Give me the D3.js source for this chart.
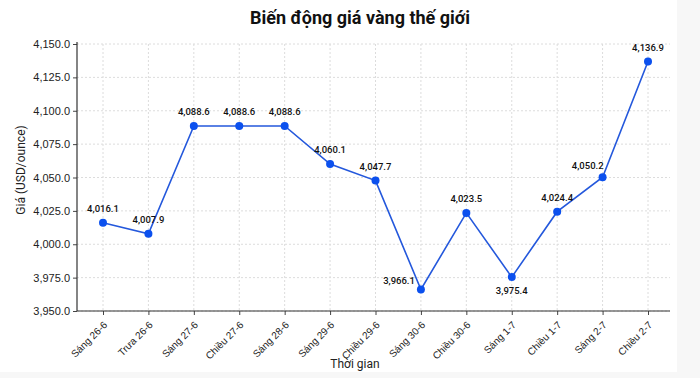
<!DOCTYPE html>
<html>
<head>
<meta charset="utf-8">
<script src="https://cdn.jsdelivr.net/npm/d3@7"></script>
<style>
  html, body { margin: 0; padding: 0; background: #f7f7f7; }
  svg { display: block; font-family: Roboto, "Noto Sans", sans-serif; }
</style>
</head>
<body>
<div id="container"></div>
<script>
/**
 * DATA
 * */
const categories = ["Sáng 26-6", "Trưa 26-6", "Sáng 27-6", "Chiều 27-6", "Sáng 28-6", "Sáng 29-6",
  "Chiều 29-6", "Sáng 30-6", "Chiều 30-6", "Sáng 1-7", "Chiều 1-7", "Sáng 2-7", "Chiều 2-7"];
const prices = [4016.1, 4007.9, 4088.6, 4088.6, 4088.6, 4060.1,
  4047.7, 3966.1, 4023.5, 3975.4, 4024.4, 4050.2, 4136.9];
const yTicks = [3950, 3975, 4000, 4025, 4050, 4075, 4100, 4125, 4150];

const title = "Biến động giá vàng thế giới";
const xTitle = "Thời gian";
const yTitle = "Giá (USD/ounce)";

// where a value label sits when "above" would collide
const labelSide = { "Sáng 30-6": "left", "Sáng 1-7": "below", "Sáng 2-7": "upleft" };

/**
 * CONSTANTS
 * */
const width = 700, height = 378;
const plot = { left: 77, right: 670, top: 44, bottom: 311 };

const svg = d3.select("#container").append("svg")
  .attr("width", width)
  .attr("height", height);

// white card
svg.append("rect")
  .attr("x", 0).attr("y", 0)
  .attr("width", 677).attr("height", 372)
  .attr("fill", "#fff");

const x = d3.scalePoint()
  .domain(categories)
  .range([103, 648]);

const y = d3.scaleLinear()
  .domain([3950, 4150])
  .range([plot.bottom, plot.top]);

const fmt = d3.format(",.1f");

// grid
svg.append("g")
  .selectAll("line.hgrid")
  .data(yTicks)
  .join("line")
  .attr("class", "hgrid")
  .attr("x1", plot.left).attr("x2", plot.right)
  .attr("y1", d => y(d)).attr("y2", d => y(d))
  .attr("stroke", "#dcdcdc")
  .attr("stroke-dasharray", "2,2");

svg.append("g")
  .selectAll("line.vgrid")
  .data(categories)
  .join("line")
  .attr("class", "vgrid")
  .attr("x1", d => x(d)).attr("x2", d => x(d))
  .attr("y1", plot.top).attr("y2", plot.bottom)
  .attr("stroke", "#dcdcdc")
  .attr("stroke-dasharray", "2,2");

// axes
const yAxis = svg.append("g")
  .attr("transform", `translate(${plot.left},0)`)
  .call(d3.axisLeft(y).tickValues(yTicks).tickFormat(fmt).tickSize(4).tickSizeOuter(0));
yAxis.select(".domain").remove();
yAxis.selectAll("line").attr("stroke", "#444");
yAxis.selectAll("text").attr("font-size", 11).attr("fill", "#222").attr("x", -7);

const xAxis = svg.append("g")
  .attr("transform", `translate(0,${plot.bottom})`)
  .call(d3.axisBottom(x).tickSize(4).tickSizeOuter(0));
xAxis.select(".domain").remove();
xAxis.selectAll("line").attr("stroke", "#444");
xAxis.selectAll("text")
  .attr("font-size", 10)
  .attr("fill", "#222")
  .attr("text-anchor", "end")
  .attr("x", 0).attr("y", 0)
  .attr("dy", "0.35em")
  .attr("transform", "translate(2,12) rotate(-45)");

// axis lines
svg.append("line")
  .attr("x1", plot.left).attr("x2", plot.right)
  .attr("y1", plot.bottom).attr("y2", plot.bottom)
  .attr("stroke", "#333").attr("stroke-width", 1.2);
svg.append("line")
  .attr("x1", plot.left).attr("x2", plot.left)
  .attr("y1", plot.top - 2).attr("y2", plot.bottom)
  .attr("stroke", "#333").attr("stroke-width", 1.2);

// line + dots
const pts = categories.map((c, i) => ({ cat: c, val: prices[i] }));

svg.append("path")
  .datum(pts)
  .attr("fill", "none")
  .attr("stroke", "#2458dc")
  .attr("stroke-width", 1.6)
  .attr("d", d3.line().x(d => x(d.cat)).y(d => y(d.val)));

svg.selectAll("circle.dot")
  .data(pts)
  .join("circle")
  .attr("class", "dot")
  .attr("cx", d => x(d.cat))
  .attr("cy", d => y(d.val))
  .attr("r", 4)
  .attr("fill", "#0b50ee");

// value labels
svg.selectAll("text.val")
  .data(pts)
  .join("text")
  .attr("class", "val")
  .attr("font-size", 9.5)
  .attr("font-weight", 500)
  .attr("fill", "#111")
  .attr("dy", "0.35em")
  .each(function (d) {
    const side = labelSide[d.cat] || "above";
    const px = x(d.cat), py = y(d.val);
    const t = d3.select(this).text(fmt(d.val));
    if (side === "left") t.attr("text-anchor", "end").attr("x", px - 6).attr("y", py - 9);
    else if (side === "below") t.attr("text-anchor", "middle").attr("x", px).attr("y", py + 14);
    else if (side === "upleft") t.attr("text-anchor", "end").attr("x", px + 1).attr("y", py - 12);
    else t.attr("text-anchor", "middle").attr("x", px).attr("y", py - 14);
  });

// titles
svg.append("text")
  .attr("x", 360).attr("y", 18)
  .attr("dy", "0.35em")
  .attr("text-anchor", "middle")
  .attr("font-size", 18)
  .attr("font-weight", "bold")
  .attr("fill", "#111")
  .text(title);

svg.append("text")
  .attr("x", 355).attr("y", 364)
  .attr("dy", "0.35em")
  .attr("text-anchor", "middle")
  .attr("font-size", 12)
  .attr("fill", "#222")
  .text(xTitle);

svg.append("text")
  .attr("transform", "translate(21,170) rotate(-90)")
  .attr("dy", "0.35em")
  .attr("text-anchor", "middle")
  .attr("font-size", 12)
  .attr("fill", "#222")
  .text(yTitle);
</script>
</body>
</html>
